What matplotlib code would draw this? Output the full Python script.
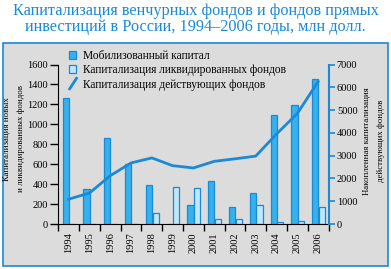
import numpy as np
import matplotlib.pyplot as plt
from matplotlib.patches import Rectangle, Patch
from matplotlib.lines import Line2D
from matplotlib.legend_handler import HandlerBase

years = ['1994', '1995', '1996', '1997', '1998', '1999', '2000',
         '2001', '2002', '2003', '2004', '2005', '2006']
mobilized = [1265, 350, 865, 605, 390, 0, 190, 430, 170, 310, 1090, 1190, 1450]
liquidated = [0, 0, 0, 0, 110, 370, 360, 55, 55, 190, 20, 30, 170]
active = [1090, 1360, 2120, 2680, 2900, 2560, 2460, 2750, 2860, 2980, 3950, 4850, 6250]

blue = '#1a8ad6'
dark_fill = '#35b2ee'
light_fill = '#c2e6fa'
panel_bg = '#dcdcdc'

W, H = 391, 269

class DiagHandler(HandlerBase):
    # short slanted line in the legend, like the reference
    def create_artists(self, legend, orig, xd, yd, w, h, fontsize, trans):
        ln = Line2D([-xd + 0.5, -xd + w], [-yd - 1, -yd + h + 1],
                    color=blue, lw=2, transform=trans)
        return [ln]

fig = plt.figure(figsize=(W / 100, H / 100), dpi=100)
fig.patch.set_facecolor('white')

# gray panel with blue border
fig.add_artist(Rectangle((2.5 / W, 3 / H), 385 / W, 223.5 / H,
                         transform=fig.transFigure, facecolor=panel_bg,
                         edgecolor=blue, lw=1.2, zorder=0))

fig.text(0.5, 1 - 19 / H,
         'Капитализация венчурных фондов и фондов прямых\n'
         'инвестиций в России, 1994–2006 годы, млн долл.',
         ha='center', va='center', color=blue, fontsize=11.7,
         family='Liberation Serif', linespacing=1.05)

ax = fig.add_axes([58.3 / W, 1 - 224 / H, 270.2 / W, 159.5 / H])
ax.set_facecolor('none')
ax2 = ax.twinx()

x = np.arange(len(years))
ax.bar(x + 0.36, mobilized, width=0.3, color=dark_fill, edgecolor=blue, lw=0.9)
ax.bar(x + 0.68, liquidated, width=0.29, color=light_fill, edgecolor=blue, lw=0.9)
ax2.plot(x + 0.5, active, color=blue, lw=2)

ax.set_xlim(0, 13)
ax.set_ylim(0, 1600)
ax2.set_ylim(0, 7000)

ax.set_yticks(np.arange(0, 1601, 200))
ax2.set_yticks(np.arange(0, 7001, 1000))
ax.set_xticks(np.arange(0, 14))
ax.set_xticklabels([])
ax.set_xticks(x + 0.5, minor=True)
ax.set_xticklabels(years, minor=True, rotation=90, family='Liberation Serif', fontsize=7.5)
ax.tick_params(axis='x', which='major', direction='out', length=5, width=1, color='black')
ax.tick_params(axis='x', which='minor', length=0, pad=6)
ax.tick_params(axis='y', direction='out', length=5.5, width=1, color='black', pad=2)
ax2.tick_params(axis='y', direction='out', length=4, width=1.2, color=blue, pad=2)
for lab in ax.get_yticklabels() + ax2.get_yticklabels():
    lab.set_family('Liberation Serif')
    lab.set_fontsize(7.5)

for a in (ax, ax2):
    a.spines['top'].set_visible(False)
ax2.spines['left'].set_visible(False)
ax2.spines['bottom'].set_visible(False)
ax.spines['right'].set_visible(False)
ax2.spines['right'].set_color(blue)
ax2.spines['right'].set_linewidth(1.5)

fig.text(14 / W, 1 - 139 / H, 'Капитализация новых\nи ликвидированных фондов',
         rotation=90, ha='center', va='center', fontsize=6.3,
         family='Liberation Serif', linespacing=1.85)
fig.text(374 / W, 1 - 141 / H, 'Накопленная капитализация\nдействующих фондов',
         rotation=90, ha='center', va='center', fontsize=6.3,
         family='Liberation Serif', linespacing=1.85)

handles = [Patch(facecolor=dark_fill, edgecolor=blue, lw=0.9),
           Patch(facecolor=light_fill, edgecolor=blue, lw=0.9),
           Line2D([], [], color=blue)]
labels = ['Мобилизованный капитал', 'Капитализация ликвидированных фондов',
          'Капитализация действующих фондов']
fig.legend(handles, labels, loc='upper left', bbox_to_anchor=(69 / W, 1 - 50 / H),
           frameon=False, borderpad=0, borderaxespad=0, handlelength=0.65,
           handleheight=0.65, handletextpad=0.6, labelspacing=0.2,
           prop={'family': 'Liberation Serif', 'size': 8.3},
           handler_map={Line2D: DiagHandler()})

fig.savefig('out.png', dpi=100)
